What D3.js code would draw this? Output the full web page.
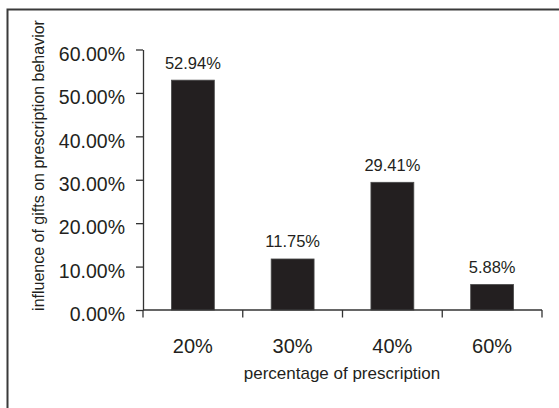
<!DOCTYPE html>
<html>
<head>
<meta charset="utf-8">
<script src="https://cdn.jsdelivr.net/npm/d3@7"></script>
<style>
  html, body { margin: 0; padding: 0; background: #fff; }
  svg { display: block; font-family: "Liberation Sans", Arial, sans-serif; }
</style>
</head>
<body>
<script>
// Share of respondents by percentage of prescription influenced by gifts
const categories = ["20%", "30%", "40%", "60%"];
const values = [52.94, 11.75, 29.41, 5.88];
const valueLabels = ["52.94%", "11.75%", "29.41%", "5.88%"];
const yTickValues = [0, 10, 20, 30, 40, 50, 60];
const xTitle = "percentage of prescription";
const yTitle = "influence of gifts on prescription behavior";

const W = 559, H = 408;
const ink = "#231f20";

const svg = d3.select("body").append("svg")
  .attr("width", W).attr("height", H);

// frame (only top and left edges fall inside the canvas)
svg.append("rect")
  .attr("x", 7.5).attr("y", 9.5)
  .attr("width", W).attr("height", H)
  .attr("fill", "none").attr("stroke", "#3a3a3a").attr("stroke-width", 2);

const x = d3.scaleBand()
  .domain(categories)
  .range([143, 542])
  .paddingInner(0.57)
  .paddingOuter(0.285);

const y = d3.scaleLinear().domain([0, 60]).range([310, 49.5]);

// bars
svg.append("g").selectAll("rect")
  .data(values)
  .join("rect")
  .attr("x", (d, i) => x(categories[i]))
  .attr("y", d => y(d))
  .attr("width", x.bandwidth())
  .attr("height", d => y(0) - y(d))
  .attr("fill", ink)
  .attr("stroke", "#4a4a4a")
  .attr("stroke-width", 0.8);

// value labels
svg.append("g").selectAll("text")
  .data(values)
  .join("text")
  .attr("x", (d, i) => x(categories[i]) + x.bandwidth() / 2)
  .attr("y", d => y(d) - 11.5)
  .attr("text-anchor", "middle")
  .attr("font-size", 16.5)
  .attr("fill", ink)
  .text((d, i) => valueLabels[i]);

// y axis
const yAxis = svg.append("g")
  .attr("transform", "translate(143,0)")
  .call(d3.axisLeft(y)
    .tickValues(yTickValues)
    .tickSize(7)
    .tickSizeOuter(0)
    .tickPadding(11)
    .tickFormat(d => d.toFixed(2) + "%"));
yAxis.select(".domain").attr("stroke", "#333").attr("stroke-width", 1.3);
yAxis.selectAll(".tick line").attr("stroke", "#333").attr("stroke-width", 1.3);
yAxis.selectAll(".tick text")
  .attr("font-size", 19.5)
  .attr("font-family", "Liberation Sans, Arial, sans-serif")
  .attr("fill", ink)
  .attr("dy", "0.55em");

// x axis: line with ticks at band boundaries
const step = x.step();
const boundaries = [x(categories[0]) - x.paddingOuter() * step]
  .concat(categories.map(c => x(c) - x.paddingOuter() * step + step));
const xAxis = svg.append("g");
xAxis.append("line")
  .attr("x1", x.range()[0]).attr("x2", x.range()[1])
  .attr("y1", y(0)).attr("y2", y(0))
  .attr("stroke", "#333").attr("stroke-width", 1.3);
xAxis.selectAll("line.tk")
  .data(boundaries)
  .join("line")
  .attr("class", "tk")
  .attr("x1", d => d).attr("x2", d => d)
  .attr("y1", y(0)).attr("y2", y(0) + 7.5)
  .attr("stroke", "#333").attr("stroke-width", 1.3);
xAxis.selectAll("text")
  .data(categories)
  .join("text")
  .attr("x", d => x(d) + x.bandwidth() / 2)
  .attr("y", 353)
  .attr("text-anchor", "middle")
  .attr("font-size", 20)
  .attr("fill", ink)
  .text(d => d);

// axis titles
svg.append("text")
  .attr("x", 342).attr("y", 379)
  .attr("text-anchor", "middle")
  .attr("font-size", 17)
  .attr("fill", ink)
  .text(xTitle);

svg.append("text")
  .attr("transform", "translate(44,165.5) rotate(-90)")
  .attr("text-anchor", "middle")
  .attr("font-size", 16)
  .attr("fill", ink)
  .text(yTitle);
</script>
</body>
</html>
